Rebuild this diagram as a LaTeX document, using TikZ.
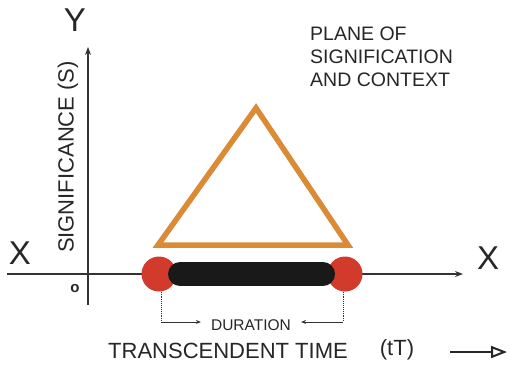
\documentclass[tikz,border=0pt]{standalone}
\usepackage{fontspec}
\setmainfont{Liberation Sans}
\usetikzlibrary{arrows.meta,positioning}
\definecolor{ochre}{HTML}{DB8A36}
\definecolor{dotred}{HTML}{D23B2C}
\definecolor{axisgray}{HTML}{333333}

\begin{document}
\begin{tikzpicture}[
  x=1pt, y=-1pt,
  lbl/.style={inner sep=0pt,text=black!85},
  ax/.style={-{Stealth[length=8pt,width=6pt]},axisgray,line width=1.1pt},
  dot/.style={circle,fill=dotred,minimum size=35pt,inner sep=0pt},
  ar/.style={-{Stealth[length=5pt,width=4pt]},black!80,line width=0.9pt}
]
\useasboundingbox (0,0) rectangle (510,376);
% axes
\coordinate (ybot) at (88,305);
\coordinate (ytop) at (88,47);
\coordinate (xl) at (7,274);
\coordinate (xr) at (463,274);
\draw[ax] (ybot) -- (ytop);
\draw[ax] (xl) -- (xr);
\node[lbl,font=\fontsize{33}{36}\selectfont] (ylab) at (75,20) {Y};
\node[lbl,font=\fontsize{33}{36}\selectfont] (xlab1) at (20,253) {X};
\node[lbl,font=\fontsize{33}{36}\selectfont] (xlab2) at (488,258) {X};
\node[lbl,font=\fontsize{15}{18}\selectfont\bfseries] (orig) at (75,289) {o};
\node[lbl,font=\fontsize{22}{26}\selectfont,rotate=90] (sig) at (68,157) {SIGNIFICANCE (S)};
\node[lbl,font=\fontsize{19.5}{23}\selectfont,align=left,anchor=west] (plane) at (310,57) {PLANE OF\\SIGNIFICATION\\AND CONTEXT};
% triangle
\coordinate (apex) at (256,108);
\coordinate (tbr) at (348,245);
\coordinate (tbl) at (158,245);
\draw[ochre,line width=5.5pt] (apex) -- (tbr) -- (tbl) -- cycle;
% duration bar
\node[dot] (l) at (159,274) {};
\node[dot] (r) at (345,274) {};
\draw[line width=24pt,line cap=round,black!90,shorten <=21pt,shorten >=22pt] (l.center) -- (r.center);
\node[lbl,font=\fontsize{15.5}{18}\selectfont,inner xsep=10pt] (d) at (251,325) {DURATION};
\coordinate (lc) at (161,322);
\coordinate (rc) at (343,322);
\draw[densely dotted,line width=0.9pt,black!80] (l.south -| lc) -- (lc);
\draw[densely dotted,line width=0.9pt,black!80] (r.south -| rc) -- (rc);
\draw[ar] (lc) -- (lc -| d.west);
\draw[ar] (rc) -- (rc -| d.east);
% time label
\node[lbl,font=\fontsize{22}{26}\selectfont] (tt) at (228,351) {TRANSCENDENT TIME};
\node[lbl,font=\fontsize{22}{26}\selectfont] (tT) at (397,350) {(tT)};
\coordinate (ta) at (450,352);
\coordinate (tb) at (507,352);
\draw[-{Triangle[open,length=16pt,width=12pt,line width=2pt]},line width=2.6pt,black!85] (ta) -- (tb);
\end{tikzpicture}
\end{document}
